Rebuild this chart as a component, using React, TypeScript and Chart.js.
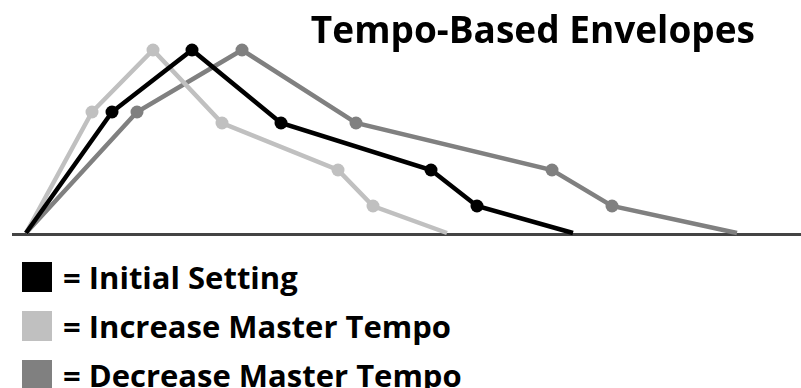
import React, { useEffect, useRef } from "react";
import { Chart, registerables } from "chart.js";

Chart.register(...registerables);

const TITLE = "Tempo-Based Envelopes";
const SERIES_LABELS = ["= Initial Setting", "= Increase Master Tempo", "= Decrease Master Tempo"];
const SERIES_COLORS = ["#000000", "#c0c0c0", "#808080"];

// envelope breakpoints: time (x) and level (y)
const initialX = [0, 86, 166, 255, 405, 451, 547];
const increaseX = [0, 66, 127, 196, 312, 347, 421];
const decreaseX = [0, 111, 216, 330, 526, 586, 711];
const levels = [0, 121, 183, 110, 63, 27, 0];

const X_MIN = -26;
const X_MAX = 775;
const Y_MAX = 233;
const AXIS_START = -14;

const toPoints = (xs: number[]) => xs.map((x, i) => ({ x, y: levels[i] }));
const radii = levels.map((_, i) => (i === 0 || i === levels.length - 1 ? 0 : 6.5));

const baselinePlugin = {
  id: "baseline",
  beforeDatasetsDraw(chart: any) {
    const { ctx, chartArea } = chart;
    const xs = chart.scales.x;
    ctx.save();
    ctx.strokeStyle = "#444444";
    ctx.lineWidth = 3;
    ctx.beginPath();
    ctx.moveTo(xs.getPixelForValue(AXIS_START), chartArea.bottom + 1.5);
    ctx.lineTo(chart.width, chartArea.bottom + 1.5);
    ctx.stroke();
    ctx.restore();
  },
};

export default function App() {
  const ref = useRef<HTMLCanvasElement | null>(null);

  useEffect(() => {
    document.body.style.margin = "0";
    const seriesX = [initialX, increaseX, decreaseX];
    const chart = new Chart(ref.current as HTMLCanvasElement, {
      type: "line",
      data: {
        datasets: seriesX.map((xs, i) => ({
          label: SERIES_LABELS[i],
          data: toPoints(xs),
          borderColor: SERIES_COLORS[i],
          backgroundColor: SERIES_COLORS[i],
          pointBackgroundColor: SERIES_COLORS[i],
          pointBorderWidth: 0,
          pointRadius: radii,
          borderWidth: 4.5,
          tension: 0,
          fill: false,
          clip: false,
        })),
      },
      options: {
        animation: false,
        responsive: false,
        maintainAspectRatio: false,
        layout: { padding: { left: 0, right: 0, top: 0, bottom: 7 } },
        scales: {
          x: { type: "linear", min: X_MIN, max: X_MAX, display: false },
          y: { type: "linear", min: 0, max: Y_MAX, display: false },
        },
        plugins: {
          legend: { display: false },
          title: { display: false },
          tooltip: { enabled: false },
        },
      },
      plugins: [baselinePlugin],
    } as any);
    return () => chart.destroy();
  }, []);

  const font = "'Open Sans', sans-serif";
  return (
    <div style={{ position: "relative", width: 801, height: 388, overflow: "hidden", background: "#fff" }}>
      <canvas ref={ref} width={801} height={240} style={{ position: "absolute", left: 0, top: 0, width: 801, height: 240 }} />
      <div
        style={{
          position: "absolute",
          right: 46,
          top: 10,
          fontFamily: font,
          fontWeight: 700,
          fontSize: 37,
          lineHeight: "37px",
          color: "#000",
          whiteSpace: "nowrap",
        }}
      >
        {TITLE}
      </div>
      {SERIES_LABELS.map((label, i) => (
        <div
          key={label}
          style={{ position: "absolute", left: 22, top: 262 + i * 49, height: 30, display: "flex", alignItems: "center" }}
        >
          <div style={{ width: 30, height: 30, background: SERIES_COLORS[i] }} />
          <div
            style={{
              marginLeft: 11,
              fontFamily: font,
              fontWeight: 700,
              fontSize: 31,
              lineHeight: "30px",
              color: "#000",
              whiteSpace: "nowrap",
            }}
          >
            {label}
          </div>
        </div>
      ))}
    </div>
  );
}
